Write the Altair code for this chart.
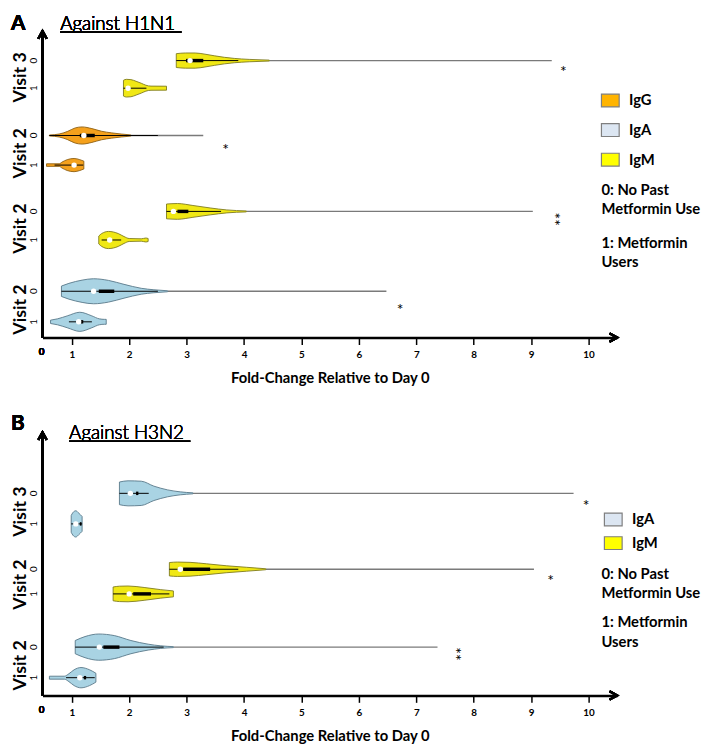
import altair as alt
import pandas as pd

FONT = "Lato"
X_DOMAIN = [0.49, 10.5]
X_TICKS = [1, 2, 3, 4, 5, 6, 7, 8, 9, 10]
AXIS_TITLE = "Fold-Change Relative to Day 0"

FILL = {"IgG": "#F5A11C", "IgM": "#F0E814", "IgA": "#A9D3E3"}
STROKE = {"IgG": "#8C5E10", "IgM": "#7D7A1E", "IgA": "#587888"}
LEGEND_FILL = {"IgG": "#FFB400", "IgA": "#DCE6F2", "IgM": "#FFFF00"}
NOTES = ["0: No Past", "Metformin Use", "1: Metformin", "Users"]

# ---------------- Panel A : against H1N1 ----------------
A_title = "Against H1N1"
A_visit = ["Visit 3", "Visit 3", "Visit 2", "Visit 2", "Visit 2", "Visit 2", "Visit 2", "Visit 2"]
A_group = ["0", "1", "0", "1", "0", "1", "0", "1"]
A_iso = ["IgM", "IgM", "IgG", "IgG", "IgM", "IgM", "IgA", "IgA"]
A_row = [281, 253, 205, 175, 128, 99, 47, 16]
A_median = [3.06, 1.98, 1.21, 1.04, 2.77, 1.66, 1.38, 1.12]
A_q1 = [2.99, 1.98, 1.14, 1.02, 2.84, 1.66, 1.47, 1.16]
A_q3 = [3.29, 1.98, 1.40, 1.06, 3.03, 1.66, 1.74, 1.20]
A_wlo = [2.82, 1.90, 0.61, 0.70, 2.65, 1.52, 0.82, 0.95]
A_whi = [3.90, 2.30, 2.50, 1.20, 3.60, 1.86, 2.50, 1.35]
A_max = [9.36, 2.65, 3.29, 1.21, 9.03, 2.33, 6.48, 1.60]
A_prof_x = [
    [2.82, 2.98, 3.15, 3.32, 3.49, 3.66, 3.83, 4.09, 4.44],
    [1.90, 1.95, 2.03, 2.12, 2.21, 2.29, 2.38, 2.65],
    [0.61, 0.78, 0.92, 1.06, 1.18, 1.35, 1.52, 1.69, 1.86, 2.03],
    [0.56, 0.78, 0.83, 0.92, 1.04, 1.14, 1.21],
    [2.65, 2.84, 3.11, 3.41, 3.70, 4.04],
    [1.47, 1.52, 1.64, 1.81, 1.91, 2.00, 2.21, 2.29, 2.33],
    [0.82, 0.95, 1.18, 1.38, 1.64, 1.91, 2.21, 2.43, 2.67],
    [0.63, 0.75, 0.92, 1.14, 1.35, 1.48, 1.57, 1.60],
]
A_prof_w = [
    [7.0, 7.7, 7.7, 6.5, 4.8, 3.3, 2.2, 1.2, 0.5],
    [8.0, 9.0, 8.7, 7.0, 5.0, 3.0, 2.1, 2.0],
    [0.5, 1.5, 4.0, 7.7, 8.7, 7.0, 4.3, 2.7, 1.5, 0.6],
    [1.3, 1.3, 3.0, 5.5, 6.7, 5.5, 4.0],
    [7.5, 8.0, 6.0, 3.5, 1.5, 0.5],
    [4.0, 6.5, 8.7, 6.5, 3.5, 1.5, 1.2, 2.0, 1.5],
    [5.3, 8.0, 11.3, 12.7, 11.0, 7.0, 3.0, 1.5, 0.5],
    [1.7, 3.0, 6.0, 9.7, 6.0, 3.0, 2.5, 2.5],
]
A_star_x = [9.56, 3.68, 9.46, 6.72]
A_star_y = [273, 194, 120, 32]
A_star_t = ["*", "*", "**", "*"]
A_legend = ["IgG", "IgA", "IgM"]

# ---------------- Panel B : against H3N2 ----------------
B_title = "Against H3N2"
B_visit = ["Visit 3", "Visit 3", "Visit 2", "Visit 2", "Visit 2", "Visit 2"]
B_group = ["0", "1", "0", "1", "0", "1"]
B_iso = ["IgA", "IgA", "IgM", "IgM", "IgA", "IgA"]
B_row = [205, 174, 128, 103, 49, 18]
B_median = [2.02, 1.07, 2.89, 2.00, 1.48, 1.14]
B_q1 = [2.12, 1.14, 2.94, 2.07, 1.55, 1.21]
B_q3 = [2.16, 1.17, 3.41, 2.38, 1.83, 1.25]
B_wlo = [1.83, 0.99, 2.70, 1.72, 1.06, 0.90]
B_whi = [2.34, 1.18, 3.90, 2.70, 2.60, 1.40]
B_max = [9.74, 1.18, 9.05, 2.77, 7.37, 1.42]
B_prof_x = [
    [1.83, 1.98, 2.21, 2.43, 2.67, 2.89, 3.11],
    [0.99, 1.02, 1.07, 1.12, 1.18],
    [2.70, 2.84, 3.06, 3.35, 3.70, 4.04, 4.38],
    [1.72, 1.83, 1.98, 2.26, 2.55, 2.77],
    [1.06, 1.23, 1.47, 1.74, 2.03, 2.33, 2.55, 2.77],
    [0.61, 0.87, 0.95, 1.04, 1.16, 1.31, 1.42],
]
B_prof_w = [
    [11.5, 12.7, 12.3, 7.3, 3.5, 1.5, 0.5],
    [8.5, 11.5, 13.3, 11.0, 7.5],
    [6.8, 7.3, 7.0, 5.5, 3.5, 2.0, 0.5],
    [7.0, 7.8, 8.0, 6.5, 4.3, 3.0],
    [6.7, 10.7, 13.3, 11.7, 6.7, 3.0, 1.3, 0.5],
    [1.5, 1.5, 4.0, 8.0, 10.3, 8.0, 4.5],
]
B_star_x = [9.96, 9.34, 7.75]
B_star_y = [196, 120, 42]
B_star_t = ["*", "*", "**"]
B_legend = ["IgA", "IgM"]


def build_panel(letter, title, visit, group, iso, row, median, q1, q3, wlo, whi, vmax,
                prof_x, prof_w, star_x, star_y, star_t, legend, W, H,
                title_x, title_y, letter_y, leg_x, leg_y0, leg_step, note_y):
    n = len(iso)
    prof = []
    for i in range(n):
        for xv, wv in zip(prof_x[i], prof_w[i]):
            prof.append(dict(vid=i, x=xv, lo=row[i] - wv, hi=row[i] + wv,
                             fill=FILL[iso[i]], stroke=STROKE[iso[i]]))
    prof = pd.DataFrame(prof)
    stats = pd.DataFrame(dict(vid=list(range(n)), row=row, med=median, q1=q1, q3=q3,
                              wlo=wlo, whi=whi, grp=group, visit=visit, vmax=vmax,
                              tail0=[p[-1] for p in prof_x]))
    vlab = pd.DataFrame([
        dict(visit=visit[i], y=(row[i] + row[i + 1]) / 2 - 3) for i in range(0, n, 2)
    ])
    stars = pd.DataFrame(dict(x=star_x, y=star_y, t=star_t))
    stars1 = stars[stars.t == "*"]
    stars2 = stars[stars.t == "**"]

    xs = alt.Scale(domain=X_DOMAIN, nice=False, zero=False)
    ys = alt.Scale(domain=[0, H], nice=False, zero=False)
    xaxis = alt.Axis(values=X_TICKS, format="d", title=AXIS_TITLE, grid=False,
                     labelFont=FONT, labelFontWeight="bold", labelFontSize=10,
                     labelColor="black", labelPadding=5,
                     tickColor="black", tickSize=7, tickWidth=1.5,
                     domainColor="black", domainWidth=2.5,
                     titleFont=FONT, titleFontSize=15, titleFontWeight="bold",
                     titleColor="black", titlePadding=12)

    def X(f):
        return alt.X(f, scale=xs, axis=xaxis)

    def Y(f):
        return alt.Y(f, scale=ys, axis=None)

    tails = alt.Chart(stats).mark_rule(color="#7A7A7A", strokeWidth=1.3).encode(
        x=X("tail0:Q"), x2="vmax:Q", y=Y("row:Q"))
    violins = alt.Chart(prof).mark_area(orient="vertical", interpolate="monotone",
                                        strokeWidth=0.9).encode(
        x=X("x:Q"), y=Y("lo:Q"), y2="hi:Q",
        fill=alt.Fill("fill:N", scale=None), stroke=alt.Stroke("stroke:N", scale=None),
        detail="vid:N")
    whisk = alt.Chart(stats).mark_rule(color="black", strokeWidth=1).encode(
        x=X("wlo:Q"), x2="whi:Q", y=Y("row:Q"))
    box = alt.Chart(stats).mark_rule(color="black", strokeWidth=3.5).encode(
        x=X("q1:Q"), x2="q3:Q", y=Y("row:Q"))
    med = alt.Chart(stats).mark_point(filled=True, color="white", opacity=1, size=30,
                                      shape="circle").encode(x=X("med:Q"), y=Y("row:Q"))
    grp_lab = alt.Chart(stats).mark_text(font=FONT, fontSize=10, fontWeight="normal",
                                         angle=270, color="black",
                                         baseline="middle", align="center").encode(
        x=alt.value(-9), y=Y("row:Q"), text="grp:N")
    visit_lab = alt.Chart(vlab).mark_text(font=FONT, fontSize=18, fontWeight="bold",
                                          angle=270, color="black", baseline="middle",
                                          align="center").encode(
        x=alt.value(-22), y=Y("y:Q"), text="visit:N")
    st1 = alt.Chart(stars1).mark_text(font=FONT, fontSize=16, color="black",
                                      baseline="middle", dy=4).encode(
        x=X("x:Q"), y=Y("y:Q"), text="t:N")
    st2 = alt.Chart(stars2).mark_text(font=FONT, fontSize=16, color="black", angle=90,
                                      baseline="middle", align="center", dy=4).encode(
        x=X("x:Q"), y=Y("y:Q"), text="t:N")

    yline = alt.Chart(stats).mark_rule(color="black", strokeWidth=2.5).encode(
        x=alt.value(0), y=alt.value(0), y2=alt.value(H))
    up = alt.Chart(stats).mark_point(shape="M-0.6,1.1L0,0L0.6,1.1", filled=False,
                                     color="black", strokeWidth=2.2, size=200,
                                     opacity=1).encode(x=alt.value(0), y=alt.value(0))
    right = alt.Chart(stats).mark_point(shape="M-1.1,-0.6L0,0L-1.1,0.6", filled=False,
                                        color="black", strokeWidth=2.2, size=200,
                                        opacity=1).encode(x=alt.value(W), y=alt.value(H))
    zero = alt.Chart(stats).mark_text(text="0", font=FONT, fontSize=10,
                                      fontWeight="bold", color="black").encode(
        x=alt.value(-1), y=alt.value(H + 15))

    ttl = alt.Chart(stats).mark_text(text=title, font=FONT, fontSize=19,
                                     fontWeight=300, color="black",
                                     align="left", baseline="alphabetic").encode(
        x=alt.value(title_x), y=alt.value(title_y))
    uline = alt.Chart(stats).mark_rule(color="black", strokeWidth=1).encode(
        x=alt.value(title_x), x2=alt.value(title_x + 123), y=alt.value(title_y + 2))
    let = alt.Chart(stats).mark_text(text=letter, font=FONT, fontSize=21, fontWeight="bold",
                                     color="black", align="left",
                                     baseline="alphabetic").encode(
        x=alt.value(-32), y=alt.value(letter_y))

    leg = pd.DataFrame(dict(lab=legend, col=[LEGEND_FILL[k] for k in legend],
                            y0=[leg_y0 + i * leg_step for i in range(len(legend))]))
    leg["y1"] = leg.y0 + 13
    leg["ym"] = leg.y0 + 6.5
    leg_rect = alt.Chart(leg).mark_rect(stroke="#7F7F7F", strokeWidth=1.2).encode(
        x=alt.value(leg_x), x2=alt.value(leg_x + 18),
        y=alt.Y("y0:Q", scale=None, axis=None),
        y2="y1:Q", fill=alt.Fill("col:N", scale=None))
    leg_txt = alt.Chart(leg).mark_text(font=FONT, fontSize=15, fontWeight="bold",
                                       color="black", align="left",
                                       baseline="middle").encode(
        x=alt.value(leg_x + 28), y=alt.Y("ym:Q", scale=None, axis=None), text="lab:N")
    notes = pd.DataFrame(dict(t=NOTES, y=note_y))
    note_txt = alt.Chart(notes).mark_text(font=FONT, fontSize=15, fontWeight="bold",
                                          color="black", align="left",
                                          baseline="middle").encode(
        x=alt.value(567), y=alt.Y("y:Q", scale=None, axis=None), text="t:N")

    return alt.layer(tails, violins, whisk, box, med, grp_lab, visit_lab, st1, st2, yline,
                     up, right, zero, ttl, uline, let, leg_rect, leg_txt,
                     note_txt).properties(width=W, height=H)


panelA = build_panel("A", A_title, A_visit, A_group, A_iso, A_row, A_median, A_q1, A_q3,
                     A_wlo, A_whi, A_max, A_prof_x, A_prof_w, A_star_x, A_star_y, A_star_t,
                     A_legend, 583, 311, 18, -1, -1, 567, 64, 30, [161, 181, 215, 234])
panelB = build_panel("B", B_title, B_visit, B_group, B_iso, B_row, B_median, B_q1, B_q3,
                     B_wlo, B_whi, B_max, B_prof_x, B_prof_w, B_star_x, B_star_y, B_star_t,
                     B_legend, 583, 267, 27, 7, -2, 570, 82, 24, [144, 163, 193, 213])

chart = alt.vconcat(panelA, panelB, spacing=96, bounds="flush").configure_view(
    stroke=None).properties(padding={"left": 3, "top": 0, "right": 0, "bottom": 0})

chart.save("out.html", embed_options={"renderer": "svg", "actions": False})
